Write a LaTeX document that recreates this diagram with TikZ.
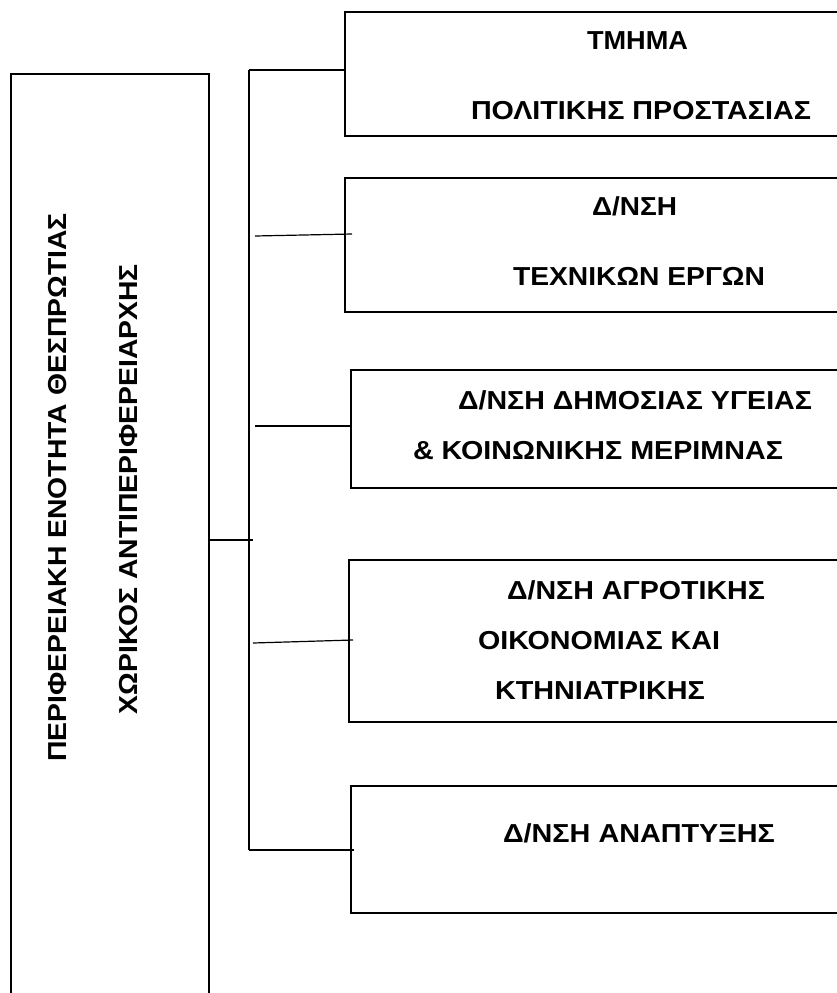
\documentclass[tikz,border=0pt]{standalone}
\usepackage{fontspec}
\setmainfont{Liberation Sans}
\usepackage{graphicx}
\newcommand\fitw[2]{\resizebox{#1pt}{\height}{#2}}
\begin{document}
\begin{tikzpicture}[x=1pt,y=-1pt,
  every node/.style={inner sep=0pt, outer sep=0pt},
  box/.style={draw, line width=1.4pt, anchor=north west},
  lbl/.style={anchor=base west, font=\fontsize{26}{30}\selectfont\bfseries},
  vlbl/.style={anchor=base east, rotate=90, font=\fontsize{26}{30}\selectfont\bfseries},
  conn/.style={line width=1.4pt},
  stub/.style={line width=1.2pt}]
\useasboundingbox (0,0) rectangle (837,993);
\clip (0,0) rectangle (837,993);
% left tall box
\node[box, minimum width=198pt, minimum height=960pt] (left) at (11,74) {};
\node[vlbl] (lt1) at (66,213) {\scalebox{1.09}[1]{ΠΕΡΙΦΕΡΕΙΑΚΗ ΕΝΟΤΗΤΑ ΘΕΣΠΡΩΤΙΑΣ}};
\node[vlbl] (lt2) at (137,264) {\scalebox{1.09}[1]{ΧΩΡΙΚΟΣ ΑΝΤΙΠΕΡΙΦΕΡΕΙΑΡΧΗΣ}};
% right boxes
\node[box, minimum width=520pt, minimum height=124pt] (b1) at (345,12) {};
\node[box, minimum width=520pt, minimum height=134pt] (b2) at (345,178) {};
\node[box, minimum width=520pt, minimum height=118pt] (b3) at (351,370) {};
\node[box, minimum width=520pt, minimum height=162pt] (b4) at (349,560) {};
\node[box, minimum width=520pt, minimum height=127pt] (b5) at (351,786) {};
% texts
\node[lbl] (t1a) at (587,49) {\fitw{101}{ΤΜΗΜΑ}};
\node[lbl] (t1b) at (471,119) {\fitw{340}{ΠΟΛΙΤΙΚΗΣ ΠΡΟΣΤΑΣΙΑΣ}};
\node[lbl] (t2a) at (592,215) {\fitw{85}{Δ/ΝΣΗ}};
\node[lbl] (t2b) at (513,285) {\fitw{252}{ΤΕΧΝΙΚΩΝ ΕΡΓΩΝ}};
\node[lbl] (t3a) at (458,409) {\fitw{354}{Δ/ΝΣΗ ΔΗΜΟΣΙΑΣ ΥΓΕΙΑΣ}};
\node[lbl] (t3b) at (413,459) {\fitw{370}{\& ΚΟΙΝΩΝΙΚΗΣ ΜΕΡΙΜΝΑΣ}};
\node[lbl] (t4a) at (507,599) {\fitw{258}{Δ/ΝΣΗ ΑΓΡΟΤΙΚΗΣ}};
\node[lbl] (t4b) at (478,649) {\fitw{242}{ΟΙΚΟΝΟΜΙΑΣ ΚΑΙ}};
\node[lbl] (t4c) at (495,699) {\fitw{210}{ΚΤΗΝΙΑΤΡΙΚΗΣ}};
\node[lbl] (t5a) at (503,842) {\fitw{272}{Δ/ΝΣΗ ΑΝΑΠΤΥΞΗΣ}};
% bus and connectors
\coordinate (bustop) at (249,70);
\coordinate (busbot) at (249,850);
\coordinate (busmid) at (249,540);
\draw[conn] (bustop) -- (busbot);
\draw[conn] (bustop) -- (b1.west |- bustop);
\draw[conn] (busbot) -- ([xshift=3pt]b5.west |- busbot);
\draw[conn] (left.east |- busmid) -- ([xshift=4pt]busmid);
\coordinate (s2a) at (255,236); \coordinate (s2b) at (352,234);
\coordinate (s3a) at (255,426); \coordinate (s3b) at (351,426);
\coordinate (s4a) at (253,643); \coordinate (s4b) at (353,640);
\draw[stub] (s2a) -- (s2b);
\draw[stub] (s3a) -- (s3b);
\draw[stub] (s4a) -- (s4b);
\end{tikzpicture}
\end{document}
